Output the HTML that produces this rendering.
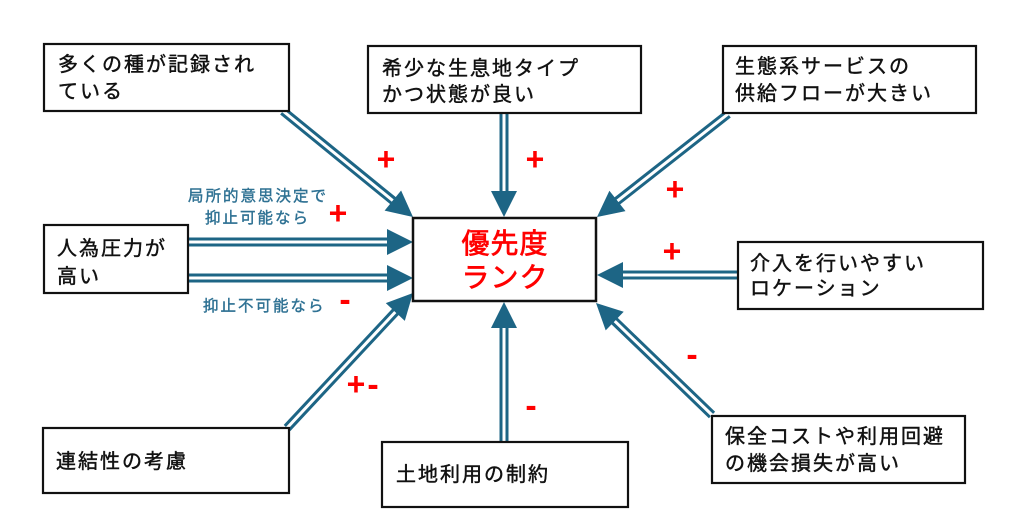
<!DOCTYPE html>
<html>
<head>
<meta charset="utf-8">
<style>
html,body{margin:0;padding:0;background:#fff;}
svg{display:block;}
.bx{fill:#fff;stroke:#111;stroke-width:2.2;}
.t{font-family:"Liberation Sans","Noto Sans CJK JP",sans-serif;font-size:20px;letter-spacing:2px;fill:#111;stroke:#111;stroke-width:0.45px;}
.b{font-family:"Liberation Sans","Noto Sans CJK JP",sans-serif;font-size:15.5px;letter-spacing:2px;fill:#2e7193;stroke:#2e7193;stroke-width:0.4px;}
.c{font-family:"Liberation Sans","Noto Sans CJK JP",sans-serif;font-size:28px;letter-spacing:1px;fill:#ff0000;stroke:#ff0000;stroke-width:0.7px;}
.p{font-family:"Liberation Sans",sans-serif;font-weight:bold;font-size:32px;fill:#ff0000;}
.m{font-family:"Liberation Sans",sans-serif;font-weight:bold;font-size:34px;fill:#ff0000;}
.ol{stroke:#1d6585;stroke-width:9;fill:none;}
.il{stroke:#fff;stroke-width:3;fill:none;}
.ah{fill:#1d6585;}
</style>
</head>
<body>
<svg width="1024" height="520" viewBox="0 0 1024 520" xmlns="http://www.w3.org/2000/svg">
<g>
<line class="ol" x1="283" y1="111" x2="394.4" y2="201.8"/>
<line class="ol" x1="504" y1="113" x2="504" y2="193"/>
<line class="ol" x1="728" y1="114" x2="615.8" y2="202.1"/>
<line class="ol" x1="188" y1="242" x2="389" y2="242"/>
<line class="ol" x1="188" y1="278" x2="389" y2="278"/>
<line class="ol" x1="738" y1="275" x2="621" y2="275"/>
<line class="ol" x1="287" y1="428" x2="396.7" y2="310.5"/>
<line class="ol" x1="504" y1="442" x2="504" y2="326"/>
<line class="ol" x1="712" y1="415" x2="613.2" y2="319.7"/>
</g>
<g>
<line class="il" x1="283" y1="111" x2="392.8" y2="200.6"/>
<line class="il" x1="504" y1="113" x2="504" y2="191"/>
<line class="il" x1="728" y1="114" x2="617.4" y2="200.9"/>
<line class="il" x1="188" y1="242" x2="387" y2="242"/>
<line class="il" x1="188" y1="278" x2="387" y2="278"/>
<line class="il" x1="738" y1="275" x2="623" y2="275"/>
<line class="il" x1="287" y1="428" x2="395.3" y2="312"/>
<line class="il" x1="504" y1="442" x2="504" y2="328"/>
<line class="il" x1="712" y1="415" x2="614.7" y2="321.1"/>
</g>
<g>
<polygon class="ah" points="413,217 384.6,210.6 401.1,190.5"/>
<polygon class="ah" points="504,217 491,191 517,191"/>
<polygon class="ah" points="597,217 609.4,190.7 625.5,211.1"/>
<polygon class="ah" points="413,242 387,229 387,255"/>
<polygon class="ah" points="413,278 387,265 387,291"/>
<polygon class="ah" points="597,275 623,262 623,288"/>
<polygon class="ah" points="413,293 404.8,320.9 385.8,303.1"/>
<polygon class="ah" points="504,302 491,328 517,328"/>
<polygon class="ah" points="596,303 623.7,311.7 605.7,330.4"/>
</g>

<rect class="bx" x="44" y="44" width="245" height="67"/>
<rect class="bx" x="368" y="46" width="273" height="67"/>
<rect class="bx" x="723" y="46" width="253" height="67"/>
<rect class="bx" x="44" y="225" width="144" height="68"/>
<rect class="bx" x="413" y="218" width="183" height="83" style="stroke-width:2.5"/>
<rect class="bx" x="738" y="242" width="245" height="67"/>
<rect class="bx" x="43" y="428" width="246" height="65"/>
<rect class="bx" x="382" y="442" width="246" height="65"/>
<rect class="bx" x="712" y="416" width="253" height="67"/>

<text class="t" x="58" y="71">多くの種が記録され</text>
<text class="t" x="58" y="98">ている</text>
<text class="t" x="382" y="75">希少な生息地タイプ</text>
<text class="t" x="382" y="101">かつ状態が良い</text>
<text class="t" x="735" y="73">生態系サービスの</text>
<text class="t" x="735" y="100">供給フローが大きい</text>
<text class="t" x="57" y="255">人為圧力が</text>
<text class="t" x="57" y="283">高い</text>
<text class="t" x="750" y="270">介入を行いやすい</text>
<text class="t" x="750" y="295">ロケーション</text>
<text class="t" x="56" y="468">連結性の考慮</text>
<text class="t" x="396" y="481">土地利用の制約</text>
<text class="t" x="725" y="443">保全コストや利用回避</text>
<text class="t" x="725" y="470">の機会損失が高い</text>

<text class="c" x="505" y="253" text-anchor="middle">優先度</text>
<text class="c" x="505" y="287" text-anchor="middle">ランク</text>

<text class="b" x="188" y="201">局所的意思決定で</text>
<text class="b" x="205" y="223">抑止可能なら</text>
<text class="b" x="203" y="311">抑止不可能なら</text>

<text class="p" x="386" y="170" text-anchor="middle">+</text>
<text class="p" x="535" y="170" text-anchor="middle">+</text>
<text class="p" x="675" y="200" text-anchor="middle">+</text>
<text class="p" x="338" y="224" text-anchor="middle">+</text>
<text class="p" x="672" y="262" text-anchor="middle">+</text>
<text class="p" x="356" y="395" text-anchor="middle">+</text>
<text class="m" x="345" y="311" text-anchor="middle">-</text>
<text class="m" x="373" y="396" text-anchor="middle">-</text>
<text class="m" x="531" y="417" text-anchor="middle">-</text>
<text class="m" x="692" y="366" text-anchor="middle">-</text>
</svg>
</body>
</html>
